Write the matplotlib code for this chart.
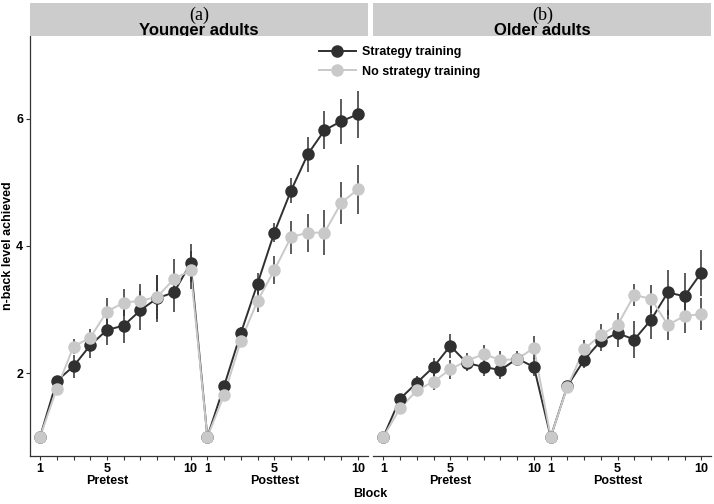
import matplotlib
matplotlib.use("Agg")
import matplotlib.pyplot as plt
from matplotlib.lines import Line2D
import numpy as np

plt.rcParams['font.family'] = ['Liberation Sans', 'DejaVu Sans']
plt.rcParams['font.weight'] = 'bold'

# ---------------- data ----------------
blocks = list(range(1, 11))
phases = ["Pretest", "Posttest"]
panel_letters = ["(a)", "(b)"]
panel_titles = ["Younger adults", "Older adults"]
series_labels = ["Strategy training", "No strategy training"]

young_strat_pre = [1.00, 1.88, 2.11, 2.44, 2.68, 2.75, 2.99, 3.18, 3.27, 3.73]
young_strat_post = [1.00, 1.80, 2.63, 3.41, 4.21, 4.87, 5.44, 5.82, 5.96, 6.07]
young_nostrat_pre = [1.00, 1.76, 2.42, 2.56, 2.97, 3.11, 3.14, 3.20, 3.48, 3.62]
young_nostrat_post = [1.00, 1.66, 2.51, 3.14, 3.62, 4.14, 4.21, 4.21, 4.68, 4.89]

old_strat_pre = [1.00, 1.60, 1.85, 2.10, 2.43, 2.16, 2.10, 2.05, 2.23, 2.10]
old_strat_post = [1.00, 1.80, 2.21, 2.51, 2.63, 2.53, 2.84, 3.27, 3.21, 3.58]
old_nostrat_pre = [1.00, 1.45, 1.73, 1.87, 2.06, 2.20, 2.30, 2.21, 2.22, 2.40]
old_nostrat_post = [1.00, 1.79, 2.38, 2.60, 2.76, 3.23, 3.17, 2.76, 2.90, 2.93]

young_strat_pre_se = [0.00, 0.08, 0.18, 0.20, 0.24, 0.28, 0.31, 0.37, 0.30, 0.30]
young_strat_post_se = [0.00, 0.07, 0.10, 0.16, 0.15, 0.20, 0.27, 0.30, 0.35, 0.37]
young_nostrat_pre_se = [0.00, 0.07, 0.12, 0.13, 0.21, 0.21, 0.26, 0.35, 0.32, 0.30]
young_nostrat_post_se = [0.00, 0.07, 0.10, 0.17, 0.22, 0.26, 0.30, 0.35, 0.33, 0.38]

old_strat_pre_se = [0.00, 0.08, 0.10, 0.14, 0.19, 0.12, 0.14, 0.14, 0.12, 0.14]
old_strat_post_se = [0.00, 0.08, 0.12, 0.16, 0.22, 0.29, 0.30, 0.36, 0.36, 0.36]
old_nostrat_pre_se = [0.00, 0.08, 0.08, 0.14, 0.15, 0.12, 0.14, 0.14, 0.10, 0.18]
old_nostrat_post_se = [0.00, 0.08, 0.14, 0.17, 0.19, 0.18, 0.22, 0.24, 0.27, 0.25]

panels = [
    ((young_strat_pre + young_strat_post, young_strat_pre_se + young_strat_post_se),
     (young_nostrat_pre + young_nostrat_post, young_nostrat_pre_se + young_nostrat_post_se)),
    ((old_strat_pre + old_strat_post, old_strat_pre_se + old_strat_post_se),
     (old_nostrat_pre + old_nostrat_post, old_nostrat_pre_se + old_nostrat_post_se)),
]

# ---------------- style ----------------
W, H = 714, 504
DARK = "#303030"
LIGHT = "#c9c9c9"
x = np.arange(1, 21)
MS = 9
LW = 1.4

tick_pos = list(x)
tick_lab = []
for ph in phases:
    for b in blocks:
        if b == 1 or b == 10:
            tick_lab.append(str(b))
        elif b == 5:
            tick_lab.append(f"5\n{ph}")
        else:
            tick_lab.append("")

fig = plt.figure(figsize=(W / 100, H / 100), dpi=100)

panel_lefts = [30, 373.3]
panel_w = 338
ax_top, ax_bot = 36, 456

for i, left in enumerate(panel_lefts):
    ax = fig.add_axes([left / W, (H - ax_bot) / H, panel_w / W, (ax_bot - ax_top) / H])
    (sy, se_s), (ny, se_n) = panels[i]
    ax.plot(x, sy, color=DARK, lw=LW, zorder=2)
    ax.plot(x, ny, color=LIGHT, lw=LW, zorder=2)
    for yv, sev in [(sy, se_s), (ny, se_n)]:
        yv = np.array(yv); sev = np.array(sev)
        m = sev > 0
        ax.vlines(x[m], (yv - sev)[m], (yv + sev)[m], color=DARK, lw=1.1, zorder=2.5)
    ax.plot(x, sy, 'o', color=DARK, ms=MS, mew=0, zorder=3)
    ax.plot(x, ny, 'o', color=LIGHT, ms=MS, mew=0, zorder=4)

    ax.set_xlim(0.4, 20.6)
    ax.set_ylim(0.70, 7.30)
    ax.set_xticks(tick_pos)
    ax.set_xticklabels(tick_lab, fontsize=9, fontweight='bold', linespacing=1.0)
    ax.tick_params(axis='x', length=3, width=0.8, color='#333333', pad=2)
    for s in ['top', 'right']:
        ax.spines[s].set_visible(False)
    ax.spines['bottom'].set_color('#333333')
    ax.spines['bottom'].set_linewidth(0.9)
    if i == 0:
        ax.set_yticks([2, 4, 6])
        ax.set_yticklabels(["2", "4", "6"], fontsize=9, fontweight='bold')
        ax.tick_params(axis='y', length=3, width=0.8, color='#333333', pad=2)
        ax.spines['left'].set_color('#333333')
        ax.spines['left'].set_linewidth(0.9)
    else:
        ax.set_yticks([])
        ax.spines['left'].set_visible(False)

    # strip
    sax = fig.add_axes([left / W, (H - 36) / H, panel_w / W, 33 / H])
    sax.set_facecolor("#cccccc")
    sax.set_xticks([]); sax.set_yticks([])
    for s in sax.spines.values():
        s.set_visible(False)
    sax.set_xlim(0, 1); sax.set_ylim(0, 1)
    sax.text(0.5, 0.50, panel_letters[i], ha='center', va='baseline', fontsize=13,
             fontweight='normal', family=['Liberation Serif'], clip_on=True)
    sax.text(0.5, 0.03, panel_titles[i], ha='center', va='baseline', fontsize=12,
             fontweight='bold', clip_on=True)

fig.text(8 / W, 1 - 246 / H, "n-back level achieved", rotation=90, ha='center', va='center',
         fontsize=9, fontweight='bold')
fig.text(370 / W, 1 - 494 / H, "Block", ha='center', va='center', fontsize=9, fontweight='bold')

handles = [Line2D([0], [0], color=DARK, lw=LW, marker='o', ms=MS, mew=0),
           Line2D([0], [0], color=LIGHT, lw=LW, marker='o', ms=MS, mew=0)]
fig.legend(handles, series_labels, loc='upper left', bbox_to_anchor=(313 / W, 1 - 40 / H),
           frameon=False, borderpad=0, handlelength=2.9, handletextpad=0.5,
           labelspacing=0.6, prop={'size': 9, 'weight': 'bold'})

fig.savefig("out.png", dpi=100)
